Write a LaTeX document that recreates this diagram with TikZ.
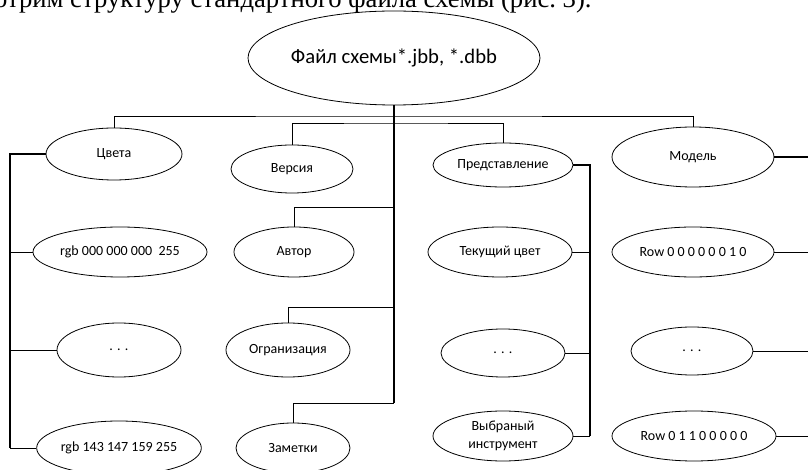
\documentclass[tikz,border=0pt]{standalone}
\usepackage{fontspec}
\setmainfont{Carlito}
\newfontfamily\bodyfont{Liberation Serif}
\usetikzlibrary{shapes.geometric}

\begin{document}
\begin{tikzpicture}[
    x=0.75pt, y=-0.75pt,
    line width=0.6pt,
    oval/.style={ellipse,draw,inner sep=0pt,align=center,
        font=\fontsize{10.5}{14}\selectfont},
    rxy/.style 2 args={minimum width=#1*1.5pt,minimum height=#2*1.5pt},
    bus/.style={line width=1pt}
]
\useasboundingbox (0,0) rectangle (808,470);
\clip (0,0) rectangle (808,470);

\node[anchor=base east,inner sep=0pt,font=\bodyfont\fontsize{20}{22}\selectfont] (intro) at (592,8)
    {Рассмотрим структуру стандартного файла схемы (рис.~3).};

\node[oval,rxy={146}{47},font=\fontsize{15.5}{18}\selectfont] (file) at (394,58) {Файл схемы*.jbb, *.dbb};

\node[oval,rxy={68}{26}] (colors) at (114,154) {Цвета};
\node[oval,rxy={61}{24}] (version) at (292,169) {Версия};
\node[oval,rxy={70}{22}] (view) at (503,165) {Представление};
\node[oval,rxy={81}{30}] (model) at (693,157) {Модель};

\node[oval,rxy={87}{25}] (c1) at (120,252) {rgb 000 000 000\ \ 255};
\node[oval,rxy={62}{27}] (c2) at (119,350) {. . .};
\node[oval,rxy={82}{27}] (c3) at (119,448) {rgb 143 147 159 255};

\node[oval,rxy={60}{25}] (a1) at (294,252) {Автор};
\node[oval,rxy={62}{27}] (a2) at (288,350) {Огранизация};
\node[oval,rxy={57}{25}] (a3) at (293,448) {Заметки};

\node[oval,rxy={72}{25}] (v1) at (500,252) {Текущий цвет};
\node[oval,rxy={62}{24}] (v2) at (503,353) {. . .};
\node[oval,rxy={70}{25}] (v3) at (503,436) {Выбраный\\инструмент};

\node[oval,rxy={81}{25}] (m1) at (693,252) {Row 0 0 0 0 0 0 1 0};
\node[oval,rxy={61}{24}] (m2) at (692,351) {. . .};
\node[oval,rxy={82}{25}] (m3) at (694,436) {Row 0 1 1 0 0 0 0 0};

\coordinate (k1) at (394,116); % colors .. model
\coordinate (k2) at (394,123); % version .. view
\coordinate (k3) at (394,207);
\coordinate (k4) at (394,307);
\coordinate (k5) at (394,403);
\coordinate (L) at (10,0);
\coordinate (R) at (590,0);
\coordinate (M) at (815,0);

\draw[bus] (file.south) -- (k5);
\draw (colors.north) |- (k1) -| (model.north);
\draw (version.north) |- (k2) -| (view.north);
\draw (a1.north) |- (k3);
\draw (a2.north) |- (k4);
\draw (a3.north) |- (k5);

\draw[bus] (colors.west) -| (L |- c3.west);
\draw (c1.west) -- (c1.west -| L);
\draw (c2.west) -- (c2.west -| L);
\draw (c3.west) -- (c3.west -| L);

\draw[bus] (view.east) -| (R |- v3.east);
\draw (v1.east) -- (v1.east -| R);
\draw (v2.east) -- (v2.east -| R);
\draw (v3.east) -- (v3.east -| R);

\draw[bus] (model.east) -| (M |- m3.east);
\draw (m1.east) -- (m1.east -| M);
\draw (m2.east) -- (m2.east -| M);
\draw (m3.east) -- (m3.east -| M);

\end{tikzpicture}
\end{document}
